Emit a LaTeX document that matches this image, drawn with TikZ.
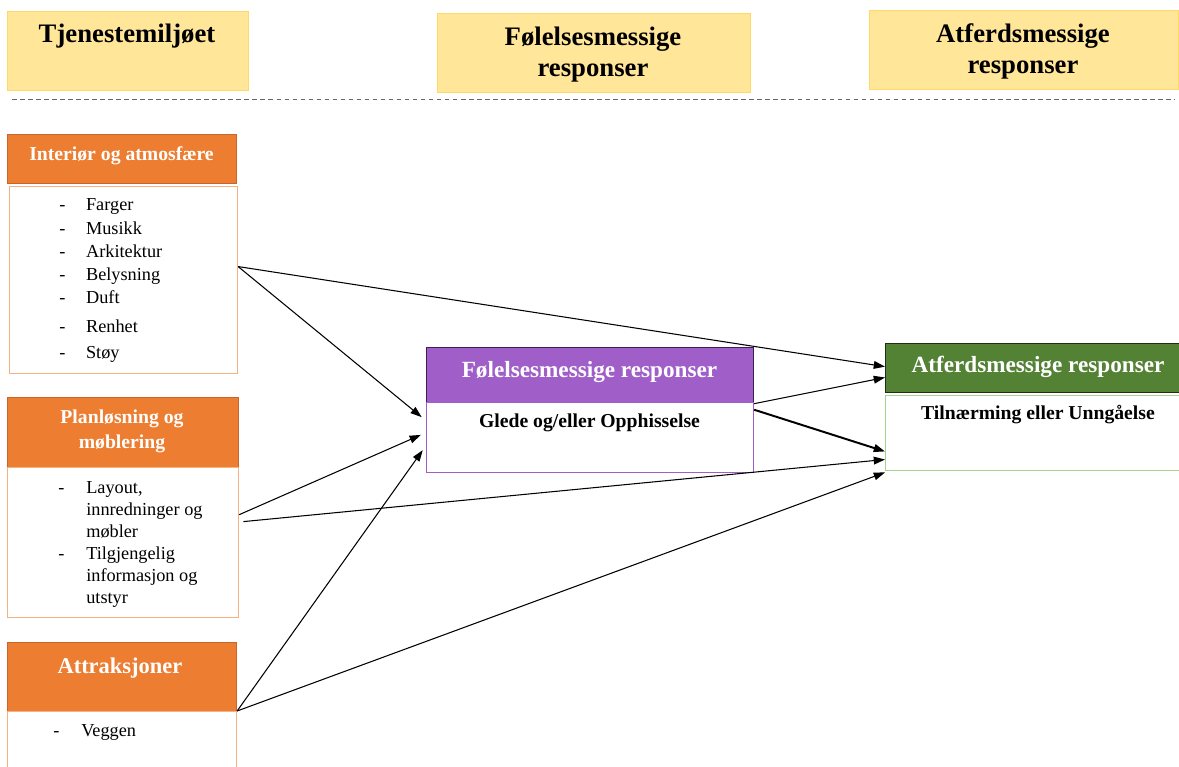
\documentclass[tikz,border=0pt]{standalone}
\usepackage{fontspec}
\setmainfont{Liberation Serif}
\usetikzlibrary{arrows.meta,positioning}

\definecolor{gulfyll}{HTML}{FFE699}
\definecolor{gulkant}{HTML}{FFD966}
\definecolor{oransje}{HTML}{ED7D31}
\definecolor{oransjekant}{HTML}{C8652A}
\definecolor{lysoransje}{HTML}{F4B183}
\definecolor{lilla}{HTML}{A05FC8}
\definecolor{lillakant}{HTML}{3E1F52}
\definecolor{groenn}{HTML}{548235}
\definecolor{groennkant}{HTML}{1F2E14}
\definecolor{lysgroenn}{HTML}{A9D18E}

\tikzset{
  boks/.style 2 args={rectangle, anchor=north west, inner sep=0pt,
    minimum width=#1*0.025cm, minimum height=#2*0.025cm},
  kolonne/.style={draw=gulkant, fill=gulfyll, line width=0.6pt},
  omraade/.style={draw=oransjekant, fill=oransje, line width=0.6pt},
  liste/.style={draw=lysoransje, line width=0.8pt},
  kolTekst/.style={inner sep=0pt, anchor=base, align=center,
    font=\fontsize{19}{22.7}\selectfont\bfseries},
  hodeTekst/.style={inner sep=0pt, anchor=base, align=center, text=white,
    font=\fontsize{14}{17.7}\selectfont\bfseries},
  punkt/.style={inner sep=0pt, anchor=base west},
  pil/.style={-{Triangle[length=8pt,width=5.5pt]}, line width=0.75pt},
  kort/.style={shorten >=4pt}
}

\begin{document}
\begin{tikzpicture}[x=0.025cm, y=-0.025cm]
\useasboundingbox (0,0) rectangle (1179,767);

% kolonneoverskrifter
\node[boks={241}{79}, kolonne] (tjenKol) at (7,11) {};
\node[boks={313}{79}, kolonne] (foleKol) at (437,13) {};
\node[boks={309}{79}, kolonne] (atfKol) at (869,10) {};
\node[kolTekst] (tjenTxt) at (127,43) {Tjenestemiljøet};
\node[kolTekst] (foleTxt) at (593,77) {Følelsesmessige\\responser};
\node[kolTekst] (atfTxt) at (1023,74) {Atferdsmessige\\responser};

\draw[gray!80!black, line width=0.7pt, dash pattern=on 3.3pt off 2.4pt] (12,99) -- (1175,99);

% tjenestemiljoet
\node[boks={229}{49}, omraade] (intHode) at (7,134) {};
\node[boks={228}{187}, liste] (intListe) at (9,186) {};
\node[boks={231}{70}, omraade] (planHode) at (7,397) {};
\node[boks={231}{150}, liste] (planListe) at (7,467) {};
\node[boks={229}{69}, omraade] (attrHode) at (7,642) {};
\node[boks={229}{80}, liste] (attrListe) at (7,711) {};

\node[hodeTekst] (intTxt) at (121.5,161) {Interiør og atmosfære};
\node[hodeTekst] (planTxt) at (122,448) {Planløsning og\\møblering};
\node[hodeTekst, font=\fontsize{16}{19}\selectfont\bfseries] (attrTxt) at (120,673) {Attraksjoner};

\node[punkt, font=\fontsize{13}{16.5}\selectfont] (intPkt) at (59,211)
  {\begin{tabular}[t]{@{}p{0.67cm}@{}l@{}}
   - & Farger\\ - & Musikk\\ - & Arkitektur\\ - & Belysning\\
   - & Duft\\[4pt] - & Renhet\\[2pt] - & Støy
   \end{tabular}};
\node[punkt, font=\fontsize{13}{15.7}\selectfont] (planPkt) at (58,493)
  {\begin{tabular}[t]{@{}p{0.7cm}@{}l@{}}
   - & Layout,\\ & innredninger og\\ & møbler\\
   - & Tilgjengelig\\ & informasjon og\\ & utstyr
   \end{tabular}};
\node[punkt, font=\fontsize{13}{15.7}\selectfont] (attrPkt) at (53,736)
  {\begin{tabular}[t]{@{}p{0.7cm}@{}l@{}} - & Veggen\end{tabular}};

% responser
\node[boks={327}{55}, draw=lillakant, fill=lilla, line width=0.8pt] (foleHode) at (426,347) {};
\node[boks={327}{70}, draw=lilla, line width=0.8pt] (glede) at (426,402) {};
\node[hodeTekst, font=\fontsize{16.5}{19}\selectfont\bfseries] (foleHodeTxt) at (589.5,378) {Følelsesmessige responser};
\node[hodeTekst, text=black] (gledeTxt) at (589.5,428) {Glede og/eller Opphisselse};

\node[boks={305}{49}, draw=groennkant, fill=groenn, line width=0.8pt] (atfHode) at (885,343) {};
\node[boks={305}{75}, draw=lysgroenn, line width=0.8pt] (tilnaerm) at (885,395) {};
\node[hodeTekst, font=\fontsize{16.5}{19}\selectfont\bfseries] (atfHodeTxt) at (1038,373) {Atferdsmessige responser};
\node[hodeTekst, text=black] (tilnaermTxt) at (1038,420) {Tilnærming eller Unngåelse};

% piler
\draw[pil, kort] ([yshift=9.6pt]intListe.east) -- ([yshift=12pt]glede.west);
\draw[pil] ([yshift=9.6pt]intListe.east) -- ([yshift=1pt]atfHode.west);
\draw[pil, kort] ([yshift=19.8pt]planListe.east) -- ([yshift=3.5pt]glede.west);
\draw[pil] ([xshift=3pt,yshift=14.9pt]planListe.east) -- ([yshift=-18.8pt]tilnaerm.west);
\draw[pil, kort] (attrListe.north east) -- ([yshift=-5.7pt]glede.west);
\draw[pil] (attrListe.north east) -- ([yshift=-28pt]tilnaerm.west);
\draw[pil] ([yshift=24.1pt]glede.east) -- ([yshift=-6.7pt]atfHode.west);
\draw[pil, line width=1.4pt] ([yshift=19.8pt]glede.east) -- ([yshift=-13.1pt]tilnaerm.west);
\end{tikzpicture}
\end{document}
